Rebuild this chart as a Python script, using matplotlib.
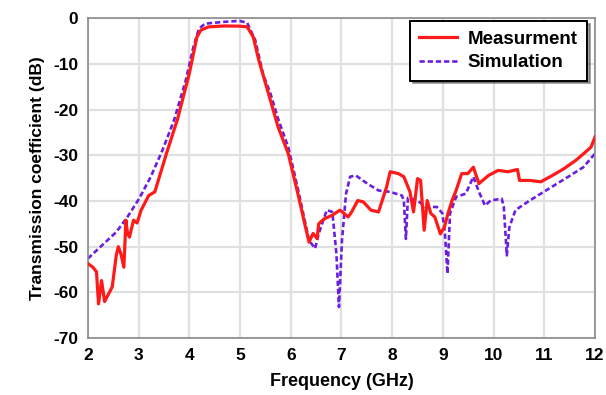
import matplotlib.pyplot as plt

meas_f = [2.0, 2.1, 2.17, 2.21, 2.27, 2.33, 2.48, 2.56, 2.6, 2.65, 2.71, 2.75, 2.78, 2.82, 2.9,
          2.97, 3.05, 3.2, 3.32, 3.55, 3.77, 4.0, 4.15, 4.23, 4.38, 4.69, 4.99, 5.14, 5.26, 5.37,
          5.6, 5.75, 5.95, 6.14, 6.29, 6.36, 6.44, 6.52, 6.55, 6.66, 6.82, 6.97, 7.05, 7.13, 7.2,
          7.32, 7.43, 7.58, 7.73, 7.89, 7.96, 8.12, 8.23, 8.35, 8.42, 8.5, 8.56, 8.63, 8.69, 8.76,
          8.84, 8.95, 9.03, 9.1, 9.18, 9.26, 9.37, 9.49, 9.6, 9.71, 9.9, 10.09, 10.28, 10.47, 10.51,
          10.71, 10.93, 11.16, 11.39, 11.62, 11.81, 11.92, 12.0]
meas_db = [-53.7, -54.5, -55.5, -62.5, -57.4, -62, -58.8, -51.9, -50, -51.5, -54.5, -44.2, -47, -47.9, -44.2,
           -44.8, -42, -38.8, -38, -29.6, -22, -12.1, -4.1, -2.6, -1.9, -1.7, -1.75, -1.9, -4.1, -9.2,
           -18, -23.8, -29.6, -38.4, -45.7, -49, -47.1, -48.2, -45, -43.9, -43.1, -42, -42.7, -43.5, -42.4,
           -39.9, -40.2, -42, -42.4, -36.9, -33.6, -34, -34.7, -38, -42.4, -35.1, -35.5, -46.4, -39.9, -42.7,
           -43.5, -47.2, -45.7, -42.7, -39.9, -37.7, -34, -34, -32.6, -36.2, -34.4, -33.3, -33.6, -33.1, -35.5,
           -35.5, -35.8, -34.4, -32.9, -31.1, -29.3, -28.2, -26]

# simulated S21
sim_f = [2.0, 2.25, 2.56, 2.78, 3.01, 3.24, 3.47, 3.7, 3.93, 4.08, 4.19, 4.31, 4.69, 4.99, 5.14,
         5.3, 5.45, 5.6, 5.75, 5.95, 6.14, 6.29, 6.36, 6.48, 6.55, 6.71, 6.82, 6.9, 6.95, 7.01,
         7.09, 7.17, 7.28, 7.51, 7.73, 7.96, 8.19, 8.23, 8.27, 8.31, 8.5, 8.65, 8.88, 8.99, 9.04,
         9.09, 9.14, 9.26, 9.45, 9.6, 9.71, 9.83, 9.94, 10.16, 10.2, 10.26, 10.31, 10.43, 10.71, 11.09,
         11.47, 11.77, 12.0]
sim_db = [-52.6, -50, -46.8, -43.5, -39.5, -34.7, -28.9, -22.3, -13.6, -6.3, -2.3, -1.2, -0.8, -0.6, -1,
          -4.8, -12.1, -16.5, -22, -28.2, -37.3, -45, -48.6, -50.4, -47.2, -42, -42.4, -51.5, -63.2, -48.6,
          -38.4, -34.7, -34.4, -36.2, -37.7, -38, -38.8, -39.9, -48.3, -39.3, -39.9, -41.3, -41.3, -42.7, -47.2,
          -55.9, -42.7, -39.1, -38.4, -34.7, -38, -41, -39.9, -39.5, -41.3, -51.9, -45.7, -42, -39.9, -37.3,
          -34.7, -32.6, -29.6]

x_ticks = list(range(2, 13))
y_ticks = list(range(-70, 1, 10))

plt.rcParams['font.family'] = 'Liberation Sans'
plt.rcParams['font.weight'] = 'bold'
plt.rcParams['axes.unicode_minus'] = False

fig = plt.figure(figsize=(6.06, 3.95), dpi=100)
ax = fig.add_axes([0.145, 0.144, 0.837, 0.81])

ax.plot(meas_f, meas_db, color='#ff1a1a', lw=2.3, label='Measurment', zorder=3)
ax.plot(sim_f, sim_db, color='#6a1fe0', lw=1.9, ls=(0, (2.0, 1.1)), label='Simulation', zorder=2)

ax.set_xlim(2, 12)
ax.set_ylim(-70, 0)
ax.set_xticks(x_ticks)
ax.set_yticks(y_ticks)
ax.tick_params(length=0, labelsize=12.5, pad=7)
for lab in ax.get_xticklabels() + ax.get_yticklabels():
    lab.set_fontweight('bold')
ax.grid(color='#e0e0e0', lw=1.6)
ax.set_axisbelow(True)
for s in ax.spines.values():
    s.set_color('#8a8a8a')
    s.set_linewidth(1.2)

ax.set_xlabel('Frequency (GHz)', fontsize=13, fontweight='bold', labelpad=7)
ax.set_ylabel('Transmission coefficient (dB)', fontsize=12.5, fontweight='bold', labelpad=6)

leg = ax.legend(loc='upper right', bbox_to_anchor=(1.003, 1.02), fontsize=13.5, frameon=True,
                fancybox=False, shadow=True, handlelength=2.0, borderpad=0.5, labelspacing=0.35,
                handletextpad=0.6)
leg.get_frame().set_edgecolor('black')
leg.get_frame().set_linewidth(1.4)
for t in leg.get_texts():
    t.set_fontweight('bold')

fig.savefig('out.png', dpi=100)
